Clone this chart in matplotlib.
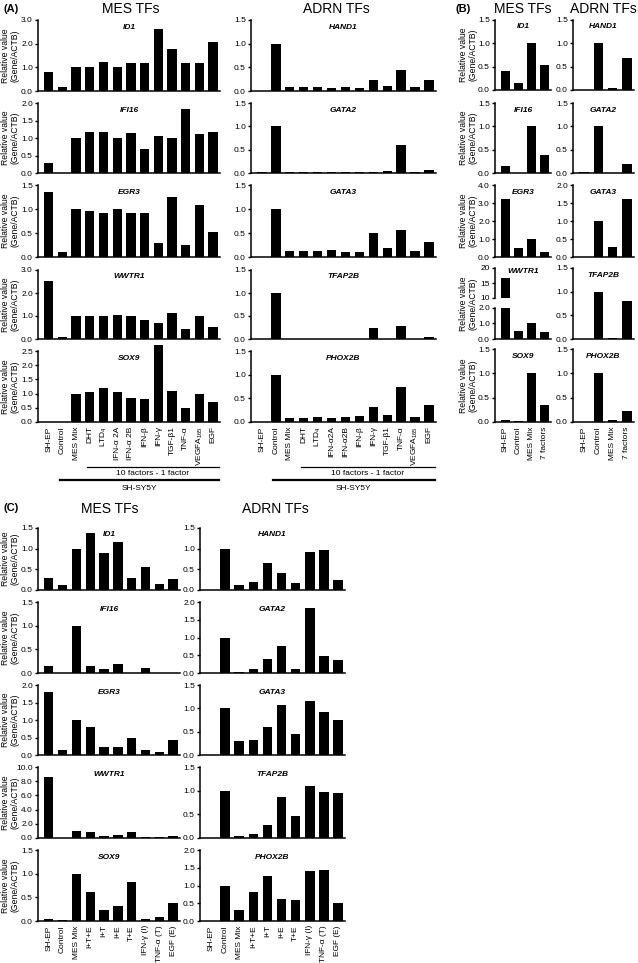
import matplotlib
matplotlib.use("Agg")
import matplotlib.pyplot as plt
from matplotlib.transforms import blended_transform_factory

plt.rcParams['font.family'] = ['Liberation Sans', 'DejaVu Sans']
plt.rcParams['mathtext.fontset'] = 'custom'
plt.rcParams['mathtext.rm'] = 'Liberation Sans'
plt.rcParams['mathtext.it'] = 'Liberation Sans:italic'

W, H = 638, 963

# ---------------- panel A data ----------------
a_mes_labels = ['SH-EP', 'Control', 'MES Mix', 'DHT', 'LTD$_4$', 'IFN-α 2A', 'IFN-α 2B',
                'IFN-β', 'IFN-γ', 'TGF-β1', 'TNF-α', 'VEGFA$_{165}$', 'EGF']
a_adrn_labels = ['SH-EP', 'Control', 'MES Mix', 'DHT', 'LTD$_4$', 'IFN-α2A', 'IFN-α2B',
                 'IFN-β', 'IFN-γ', 'TGF-β1', 'TNF-α', 'VEGFA$_{165}$', 'EGF']

a_id1 = [0.79, 0.19, 1.0, 1.0, 1.22, 1.01, 1.17, 1.2, 2.63, 1.77, 1.2, 1.18, 2.08]
a_ifi16 = [0.29, 0.0, 1.0, 1.18, 1.16, 1.0, 1.13, 0.68, 1.06, 1.0, 1.82, 1.12, 1.16]
a_egr3 = [1.36, 0.1, 1.0, 0.96, 0.92, 1.0, 0.92, 0.92, 0.3, 1.25, 0.26, 1.09, 0.53]
a_wwtr1 = [2.5, 0.07, 1.0, 1.0, 0.99, 1.04, 1.0, 0.81, 0.69, 1.13, 0.44, 1.0, 0.5]
a_sox9 = [0.0, 0.0, 1.0, 1.05, 1.2, 1.04, 0.85, 0.81, 2.7, 1.1, 0.5, 0.98, 0.7]

a_hand1 = [0.0, 1.0, 0.08, 0.08, 0.08, 0.07, 0.08, 0.07, 0.23, 0.1, 0.45, 0.08, 0.23]
a_gata2 = [0.02, 1.0, 0.02, 0.02, 0.02, 0.02, 0.02, 0.02, 0.03, 0.04, 0.6, 0.02, 0.06]
a_gata3 = [0.0, 1.0, 0.13, 0.13, 0.13, 0.14, 0.11, 0.11, 0.51, 0.18, 0.56, 0.13, 0.32]
a_tfap2b = [0.0, 1.0, 0.005, 0.005, 0.005, 0.005, 0.005, 0.01, 0.24, 0.01, 0.29, 0.01, 0.05]
a_phox2b = [0.0, 1.0, 0.085, 0.085, 0.11, 0.085, 0.11, 0.12, 0.32, 0.14, 0.73, 0.1, 0.36]

# ---------------- panel B data ----------------
b_labels = ['SH-EP', 'Control', 'MES Mix', '7 factors']
b_id1 = [0.4, 0.15, 1.0, 0.54]
b_ifi16 = [0.15, 0.0, 1.0, 0.39]
b_egr3 = [3.2, 0.5, 1.0, 0.3]
b_wwtr1 = [16.8, 0.53, 1.0, 0.42]
b_sox9 = [0.04, 0.03, 1.0, 0.34]
b_hand1 = [0.0, 1.0, 0.05, 0.68]
b_gata2 = [0.02, 1.0, 0.0, 0.2]
b_gata3 = [0.0, 1.0, 0.28, 1.6]
b_tfap2b = [0.0, 1.0, 0.02, 0.8]
b_phox2b = [0.0, 1.0, 0.05, 0.22]

# ---------------- panel C data ----------------
c_labels = ['SH-EP', 'Control', 'MES Mix', 'I+T+E', 'I+T', 'I+E', 'T+E',
            'IFN-γ (I)', 'TNF-α (T)', 'EGF (E)']
c_id1 = [0.3, 0.13, 1.0, 1.37, 0.9, 1.15, 0.3, 0.55, 0.15, 0.27]
c_ifi16 = [0.14, 0.0, 1.0, 0.14, 0.09, 0.18, 0.0, 0.11, 0.0, 0.0]
c_egr3 = [1.79, 0.13, 1.0, 0.81, 0.22, 0.24, 0.5, 0.14, 0.09, 0.43]
c_wwtr1 = [8.6, 0.05, 1.0, 0.8, 0.25, 0.4, 0.9, 0.15, 0.15, 0.28]
c_sox9 = [0.05, 0.02, 1.0, 0.61, 0.24, 0.32, 0.82, 0.05, 0.09, 0.37]
c_hand1 = [0.0, 1.0, 0.12, 0.2, 0.65, 0.42, 0.17, 0.93, 0.97, 0.24]
c_gata2 = [0.01, 1.0, 0.02, 0.11, 0.4, 0.77, 0.11, 1.84, 0.48, 0.38]
c_gata3 = [0.0, 1.0, 0.3, 0.32, 0.61, 1.07, 0.45, 1.16, 0.92, 0.76]
c_tfap2b = [0.0, 1.0, 0.04, 0.09, 0.27, 0.87, 0.47, 1.1, 0.98, 0.96]
c_phox2b = [0.0, 1.0, 0.31, 0.81, 1.26, 0.61, 0.58, 1.4, 1.44, 0.52]

fig = plt.figure(figsize=(W / 100, H / 100), dpi=100)

TICK_FS = 6
GENE_FS = 6
TITLE_FS = 10


def add_ax(x0, x1, ytop, ybot):
    return fig.add_axes([x0 / W, 1 - ybot / H, (x1 - x0) / W, (ybot - ytop) / H])


def bar_panel(x0, x1, ytop, ybot, vals, ymax, ystep, gene, fmt='{:.1f}', xlabels=None,
              ymin=0.0, bottom_spine=True, gene_y=0.95, clip=False):
    ax = add_ax(x0, x1, ytop, ybot)
    n = len(vals)
    bars = ax.bar(range(n), vals, width=0.68, color='black', bottom=0)
    for b in bars:
        b.set_clip_on(clip)
    ax.set_xlim(-0.78, n - 0.5)
    ax.set_ylim(ymin, ymax)
    ticks = []
    t = ymin
    while t <= ymax + 1e-9:
        ticks.append(round(t, 4))
        t += ystep
    ax.set_yticks(ticks)
    ax.set_yticklabels([fmt.format(v) for v in ticks])
    for s in ['top', 'right']:
        ax.spines[s].set_visible(False)
    ax.spines['left'].set_linewidth(1.1)
    ax.spines['bottom'].set_linewidth(1.1)
    if not bottom_spine:
        ax.spines['bottom'].set_visible(False)
    ax.tick_params(axis='y', length=2.5, width=1, labelsize=TICK_FS, pad=1.2)
    ax.tick_params(axis='x', length=0)
    if xlabels is None:
        ax.set_xticks([])
    else:
        ax.set_xticks(range(n))
        ax.set_xticklabels(xlabels, rotation=90, fontsize=TICK_FS)
        ax.tick_params(axis='x', pad=3)
    ax.text(0.5, gene_y, gene, transform=ax.transAxes, ha='center', va='top',
            fontsize=GENE_FS, fontweight='bold', fontstyle='italic')
    return ax


def ylab(x, yc):
    fig.text(x / W, 1 - yc / H, 'Relative value\n(Gene/ACTB)', rotation=90,
             ha='center', va='center', fontsize=6.2, linespacing=1.1)


# ---------------- panel A ----------------
a_rows = [(20, 91), (103, 173), (185, 257), (270, 339), (351, 422)]
mes_a = [(a_id1, 3.0, 1.0, 'ID1'), (a_ifi16, 2.0, 0.5, 'IFI16'), (a_egr3, 1.5, 0.5, 'EGR3'),
         (a_wwtr1, 3.0, 1.0, 'WWTR1'), (a_sox9, 2.5, 0.5, 'SOX9')]
adrn_a = [(a_hand1, 'HAND1'), (a_gata2, 'GATA2'), (a_gata3, 'GATA3'),
          (a_tfap2b, 'TFAP2B'), (a_phox2b, 'PHOX2B')]
for i, (yt, yb) in enumerate(a_rows):
    last = i == len(a_rows) - 1
    v, ym, st, g = mes_a[i]
    axm = bar_panel(38, 220, yt, yb, v, ym, st, g, xlabels=a_mes_labels if last else None)
    ylab(10, (yt + yb) / 2)
    v, g = adrn_a[i]
    axa = bar_panel(251, 436, yt, yb, v, 1.5, 0.5, g, xlabels=a_adrn_labels if last else None)
    if last:
        for ax in (axm, axa):
            tr = blended_transform_factory(ax.transData, fig.transFigure)
            ax.plot([2.8, 12.4], [1 - 467 / H] * 2, color='black', lw=0.9,
                    transform=tr, clip_on=False)
            ax.text(7.6, 1 - 473.5 / H, '10 factors - 1 factor', transform=tr,
                    ha='center', va='center', fontsize=6)
            ax.plot([0.8, 12.4], [1 - 480 / H] * 2, color='black', lw=1.6,
                    transform=tr, clip_on=False)
            ax.text(6.6, 1 - 488 / H, 'SH-SY5Y', transform=tr,
                    ha='center', va='center', fontsize=6)

# ---------------- panel B ----------------
b_rows = [(20, 90), (103, 173), (185, 257), (268, 339), (349, 422)]
mes_b = [(b_id1, 1.5, 0.5, 'ID1'), (b_ifi16, 1.5, 0.5, 'IFI16'), (b_egr3, 4.0, 1.0, 'EGR3'),
         None, (b_sox9, 1.5, 0.5, 'SOX9')]
adrn_b = [(b_hand1, 1.5, 'HAND1'), (b_gata2, 1.5, 'GATA2'), (b_gata3, 2.0, 'GATA3'),
          (b_tfap2b, 1.5, 'TFAP2B'), (b_phox2b, 1.5, 'PHOX2B')]
for i, (yt, yb) in enumerate(b_rows):
    last = i == len(b_rows) - 1
    ylab(468, (yt + yb) / 2)
    if mes_b[i] is None:
        # broken axis for WWTR1
        bar_panel(495, 551, yt, 298, b_wwtr1, 20, 5, 'WWTR1', fmt='{:.0f}', ymin=10,
                  bottom_spine=False, gene_y=1.0, clip=True)
        bar_panel(495, 551, 308, yb, b_wwtr1, 2.0, 1.0, '', clip=True)
    else:
        v, ym, st, g = mes_b[i]
        bar_panel(495, 551, yt, yb, v, ym, st, g, xlabels=b_labels if last else None)
    v, ym, g = adrn_b[i]
    bar_panel(573, 634, yt, yb, v, ym, 0.5, g, xlabels=b_labels if last else None)

# ---------------- panel C ----------------
c_rows = [(528, 590), (602, 673), (685, 755), (767, 838), (850, 921)]
mes_c = [(c_id1, 1.5, 0.5, 'ID1'), (c_ifi16, 1.5, 0.5, 'IFI16'), (c_egr3, 2.0, 0.5, 'EGR3'),
         (c_wwtr1, 10.0, 2.0, 'WWTR1'), (c_sox9, 1.5, 0.5, 'SOX9')]
adrn_c = [(c_hand1, 1.5, 'HAND1'), (c_gata2, 2.0, 'GATA2'), (c_gata3, 1.5, 'GATA3'),
          (c_tfap2b, 1.5, 'TFAP2B'), (c_phox2b, 2.0, 'PHOX2B')]
for i, (yt, yb) in enumerate(c_rows):
    last = i == len(c_rows) - 1
    v, ym, st, g = mes_c[i]
    bar_panel(38, 180, yt, yb, v, ym, st, g, xlabels=c_labels if last else None)
    ylab(10, (yt + yb) / 2)
    v, ym, g = adrn_c[i]
    bar_panel(200, 345, yt, yb, v, ym, 0.5, g, xlabels=c_labels if last else None)

# ---------------- titles ----------------
def ftext(x, y, s, **kw):
    fig.text(x / W, 1 - y / H, s, **kw)


ftext(3, 9, '(A)', fontsize=8, fontweight='bold', va='center', ha='left')
ftext(131, 9, 'MES TFs', fontsize=TITLE_FS, va='center', ha='center')
ftext(336, 9, 'ADRN TFs', fontsize=TITLE_FS, va='center', ha='center')
ftext(456, 9, '(B)', fontsize=8, fontweight='bold', va='center', ha='left')
ftext(523, 9, 'MES TFs', fontsize=TITLE_FS, va='center', ha='center')
ftext(603, 9, 'ADRN TFs', fontsize=TITLE_FS, va='center', ha='center')
ftext(3, 508, '(C)', fontsize=8, fontweight='bold', va='center', ha='left')
ftext(110, 509, 'MES TFs', fontsize=TITLE_FS, va='center', ha='center')
ftext(275, 509, 'ADRN TFs', fontsize=TITLE_FS, va='center', ha='center')

fig.savefig('out.png', dpi=100)
